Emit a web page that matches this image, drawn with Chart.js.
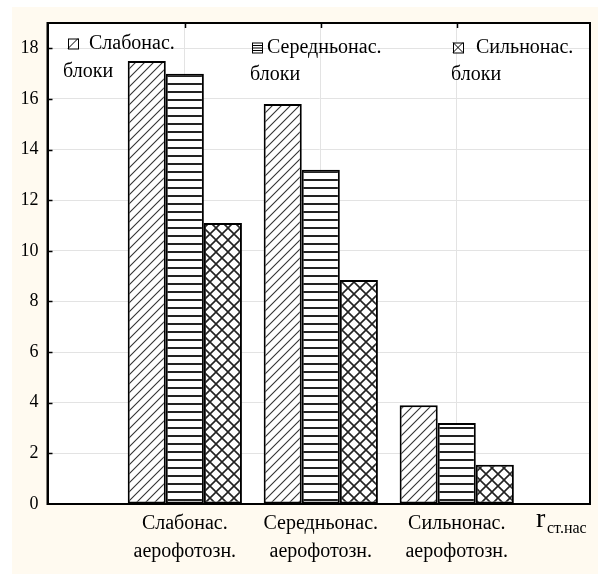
<!DOCTYPE html>
<html><head><meta charset="utf-8">
<script src="https://cdn.jsdelivr.net/npm/chart.js@4.4.1/dist/chart.umd.min.js"></script>
<style>html,body{margin:0;padding:0;background:#fff}#wrap{width:598px;height:574px}</style>
</head><body><div id="wrap"><canvas id="c" width="598" height="574"></canvas></div>
<script>
// ---- data ----
const categories = [['Слабонас.','аерофотозн.'],['Середньонас.','аерофотозн.'],['Сильнонас.','аерофотозн.']];
const categoryPos = [1,2,3];
const seriesNames = [['Слабонас.','блоки'],['Середньонас.','блоки'],['Сильнонас.','блоки']];
const weakBlocks = [17.5, 15.8, 3.9];
const mediumBlocks = [17.0, 13.2, 3.2];
const strongBlocks = [11.1, 8.85, 1.55];
const yTicks = [0,2,4,6,8,10,12,14,16,18];
const axisTitle = ['r','ст.нас'];

// ---- patterns ----
function makePattern(type){
  const c=document.createElement('canvas'); const x=c.getContext('2d');
  let s;
  if(type==='diag'){ s=9; c.width=s;c.height=s; x.fillStyle='#fff';x.fillRect(0,0,s,s);
    x.strokeStyle='#333'; x.lineWidth=1.1; x.beginPath();
    x.moveTo(-2,s+2);x.lineTo(s+2,-2);
    x.moveTo(-2-s,s+2);x.lineTo(2,-2);
    x.moveTo(s-2,s+2);x.lineTo(2*s+2,-2);
    x.stroke();
  } else if(type==='horiz'){ s=8; c.width=s;c.height=s; x.fillStyle='#fff';x.fillRect(0,0,s,s);
    x.fillStyle='#222'; x.fillRect(0,3,s,2);
  } else { s=12; c.width=s;c.height=s; x.fillStyle='#fff';x.fillRect(0,0,s,s);
    x.strokeStyle='#222'; x.lineWidth=1.6; x.beginPath();
    x.moveTo(-2,-2);x.lineTo(s+2,s+2); x.moveTo(-2,s+2);x.lineTo(s+2,-2); x.stroke();
  }
  return x.createPattern(c,'repeat');
}
const patternTypes=['diag','horiz','cross'];
const patterns=patternTypes.map(makePattern);

const seriesValues=[weakBlocks, mediumBlocks, strongBlocks];
const datasets = seriesValues.map((vals,i)=>({
  label: seriesNames[i].join(' '),
  data: vals.map((v,j)=>({x:categoryPos[j], y:v})),
  backgroundColor: patterns[i],
  borderColor:'#000', borderWidth:2, borderSkipped:false
}));

const serif='"Liberation Serif", "Times New Roman", Tinos, "DejaVu Serif", serif';
const legendPos=[
  {ix:68, tx:89, lx:63, b1:48.5, b2:76.5},
  {ix:252, tx:267, lx:250, b1:52.5, b2:79.5},
  {ix:453, tx:476, lx:451, b1:52.5, b2:79.5}
];

const decor={
  id:'decor',
  beforeDraw(chart){
    const ctx=chart.ctx, a=chart.chartArea;
    ctx.save();
    ctx.fillStyle='#fff'; ctx.fillRect(0,0,chart.width,chart.height);
    ctx.fillStyle='#fffaf0'; ctx.fillRect(12,7,chart.width-12,chart.height-7);
    ctx.fillStyle='#fff'; ctx.fillRect(a.left,a.top,a.right-a.left,a.bottom-a.top);
    ctx.restore();
  },
  afterDraw(chart){
    const ctx=chart.ctx, a=chart.chartArea;
    const ys=chart.scales.y, xs=chart.scales.x;
    ctx.save();
    ctx.strokeStyle='#000'; ctx.lineWidth=2;
    ctx.strokeRect(a.left,a.top,a.right-a.left,a.bottom-a.top);
    ctx.lineWidth=1.5; ctx.beginPath();
    yTicks.forEach(v=>{ if(v===0) return; const y=Math.round(ys.getPixelForValue(v))+0.5; ctx.moveTo(a.left,y); ctx.lineTo(a.left+5,y); });
    categoryPos.forEach(v=>{ const x=Math.round(xs.getPixelForValue(v))+0.5; ctx.moveTo(x,a.top); ctx.lineTo(x,a.top+5); });
    ctx.stroke();
    // legend
    ctx.font='20px '+serif; ctx.textBaseline='alphabetic'; ctx.textAlign='left';
    seriesNames.forEach((lines,i)=>{
      const p=legendPos[i];
      const bx=p.ix, by=p.b1-10, bs=10;
      ctx.fillStyle='#fff'; ctx.fillRect(bx,by,bs,bs);
      ctx.strokeStyle='#000'; ctx.lineWidth=1;
      ctx.beginPath();
      if(patternTypes[i]==='diag'){ ctx.moveTo(bx,by+bs); ctx.lineTo(bx+bs,by); }
      else if(patternTypes[i]==='horiz'){ for(let k=1;k<=3;k++){ ctx.moveTo(bx,by+k*2.5+0.5); ctx.lineTo(bx+bs,by+k*2.5+0.5);} }
      else { ctx.moveTo(bx,by); ctx.lineTo(bx+bs,by+bs); ctx.moveTo(bx,by+bs); ctx.lineTo(bx+bs,by); }
      ctx.stroke();
      ctx.strokeRect(bx+0.5,by+0.5,bs,bs);
      ctx.fillStyle='#000';
      ctx.fillText(lines[0],p.tx,p.b1);
      ctx.fillText(lines[1],p.lx,p.b2);
    });
    // axis title
    ctx.font='28px '+serif; ctx.fillText(axisTitle[0],536,527);
    ctx.font='16px '+serif; ctx.fillText(axisTitle[1],547,533);
    ctx.restore();
  }
};

new Chart(document.getElementById('c'),{
  type:'bar',
  data:{datasets},
  plugins:[decor],
  options:{
    responsive:false, animation:false, devicePixelRatio:1,
    layout:{padding:{top:23,right:8,left:0,bottom:0}},
    plugins:{legend:{display:false},tooltip:{enabled:false}},
    datasets:{bar:{categoryPercentage:0.84,barPercentage:1}},
    scales:{
      x:{type:'linear',min:-0.01,max:3.98,offset:false,
        afterBuildTicks:s=>{ s.ticks=[0].concat(categoryPos).map(v=>({value:v})); },
        ticks:{callback:v=>{const k=categoryPos.indexOf(v); return k>=0?categories[k]:'';},
          font:{family:serif,size:20,lineHeight:1.4},color:'#000',padding:6,maxRotation:0,autoSkip:false},
        grid:{offset:false,color:c=>(c.tick&&c.tick.value===0)?'rgba(0,0,0,0)':'#e3e3e3',drawTicks:false,lineWidth:1},
        border:{color:'#000',width:2},
        afterFit:s=>{s.height=70;}
      },
      y:{min:0,max:19,
        afterBuildTicks:s=>{ s.ticks=yTicks.map(v=>({value:v})); },
        ticks:{font:{family:serif,size:18},color:'#000',padding:9},
        grid:{color:'#e3e3e3',drawTicks:false,lineWidth:1},
        border:{color:'#000',width:2},
        afterFit:s=>{s.width=47.5;}
      }
    }
  }
});
</script></body></html>
